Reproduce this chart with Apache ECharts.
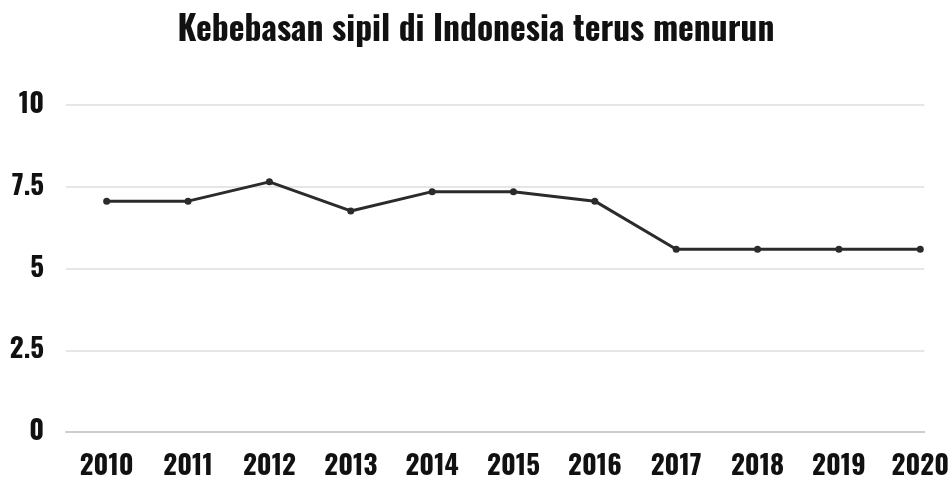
<!DOCTYPE html>
<html>
<head>
<meta charset="utf-8">
<script src="https://cdn.jsdelivr.net/npm/echarts@6/dist/echarts.min.js"></script>
<style>
html,body{margin:0;padding:0;background:#fff;}
#chart{width:952px;height:482px;}
</style>
</head>
<body>
<div id="chart"></div>
<script>
const titleText = 'Kebebasan sipil di Indonesia terus menurun';
const years = [2010, 2011, 2012, 2013, 2014, 2015, 2016, 2017, 2018, 2019, 2020];
const civilLiberties = [7.06, 7.06, 7.65, 6.76, 7.35, 7.35, 7.06, 5.59, 5.59, 5.59, 5.59];
const yTicks = [0, 2.5, 5, 7.5, 10];

const FONT = 'Oswald, "Roboto Condensed", sans-serif';
const chart = echarts.init(document.getElementById('chart'), null, {renderer: 'canvas'});
chart.setOption({
  animation: false,
  backgroundColor: '#ffffff',
  title: {
    text: titleText,
    left: 'center',
    top: 9,
    textStyle: {fontFamily: FONT, fontWeight: 'bold', fontSize: 33.5, color: '#111'}
  },
  grid: {left: 66, right: 25, top: 105, bottom: 50, containLabel: false},
  xAxis: {
    type: 'value',
    min: 2009.5,
    max: 2020.05,
    axisLine: {show: true, lineStyle: {color: '#cccccc', width: 2}},
    axisTick: {show: false},
    splitLine: {show: false},
    axisLabel: {
      customValues: years,
      margin: 21,
      fontFamily: FONT, fontWeight: 'bold', fontSize: 27, color: '#111',
      formatter: v => String(v)
    }
  },
  yAxis: {
    type: 'value',
    min: 0, max: 10, interval: 2.5,
    axisLine: {show: false},
    axisTick: {show: false},
    splitLine: {show: true, lineStyle: {color: '#e6e6e6', width: 2}},
    axisLabel: {
      customValues: yTicks,
      margin: 22,
      padding: [5, 0, 0, 0],
      fontFamily: FONT, fontWeight: 'bold', fontSize: 27, color: '#111',
      formatter: v => String(v)
    }
  },
  series: [{
    type: 'line',
    data: years.map((y, i) => [y, civilLiberties[i]]),
    symbol: 'circle',
    symbolSize: 7,
    clip: false,
    lineStyle: {color: '#2b2b2b', width: 3},
    itemStyle: {color: '#2b2b2b'}
  }]
});
</script>
</body>
</html>
